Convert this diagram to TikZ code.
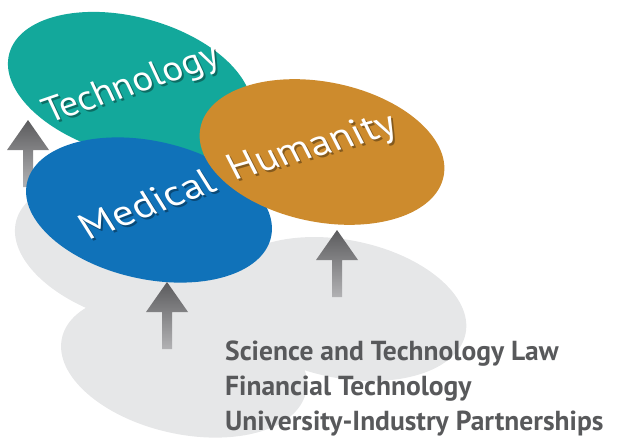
\documentclass[tikz,border=0pt]{standalone}
\usepackage{fontspec}
\setmainfont{PT Sans}
\usetikzlibrary{shapes.geometric}
\definecolor{techcol}{HTML}{13A89B}
\definecolor{medcol}{HTML}{1072B9}
\definecolor{humcol}{HTML}{CD8B2D}
\definecolor{blobcol}{HTML}{E6E7E8}
\definecolor{arrdark}{HTML}{5B5B5D}
\definecolor{arrmid}{HTML}{6B6B6D}
\definecolor{arrlight}{HTML}{B2B2B4}
\definecolor{txtcol}{HTML}{58595B}
\tikzset{
  oval/.style={ellipse, inner sep=0pt, minimum width=250pt, minimum height=138pt},
  blob/.style={oval, fill=blobcol},
  lab/.style={text=white, inner sep=0pt, font=\fontsize{36}{40}\selectfont},
  labshadow/.style={text=black, opacity=0.35, inner sep=0pt, font=\fontsize{36}{40}\selectfont},
  item/.style={text=txtcol, inner sep=0pt, anchor=base west, font=\fontsize{27.5}{30}\selectfont\bfseries},
  uparr/.pic={\shade[top color=arrdark, middle color=arrmid, bottom color=arrlight]
     (0,0) -- (21,-30) -- (5,-30) -- (5,-67) -- (-5,-67) -- (-5,-30) -- (-21,-30) -- cycle;}
}
\begin{document}
\begin{tikzpicture}[x=1pt,y=1pt]
\useasboundingbox (0,0) rectangle (617,440);
% grey shadows
\node[blob, rotate=-15] (g1) at (137,187) {};
\node[blob, rotate=-11.3] (g2) at (343,131) {};
\node[blob, rotate=-12.5] (g3) at (184,75) {};
% arrows
\pic (a1) at (28,320) {uparr};
\pic (a2) at (167,158) {uparr};
\pic (a3) at (337,210) {uparr};
% coloured ellipses
\node[oval, fill=techcol, rotate=-15] (tech) at (130,354) {};
\node[oval, fill=medcol, rotate=-12.5] (med) at (149,230) {};
\node[oval, fill=humcol, rotate=-11.3, minimum width=248pt, minimum height=140pt] (hum) at (322,288) {};
% labels  (e1 = baseline direction, e2 = letter-stem direction)
\node[labshadow, cm={0.993,0.342,-0.423,0.906,(0,0)}] (techs) at (134,352) {Technology};
\node[lab, cm={0.993,0.342,-0.423,0.906,(0,0)}] (techl) at (132,354) {Technology};
\node[labshadow, font=\fontsize{38}{42}\selectfont, cm={1.027,0.394,-0.530,0.848,(0,0)}] (meds) at (149,234) {Medical};
\node[lab, font=\fontsize{38}{42}\selectfont, cm={1.027,0.394,-0.530,0.848,(0,0)}] (medl) at (147,236) {Medical};
\node[labshadow, font=\fontsize{38}{42}\selectfont, cm={1.057,0.303,-0.454,0.891,(0,0)}] (hums) at (315,290) {Humanity};
\node[lab, font=\fontsize{38}{42}\selectfont, cm={1.057,0.303,-0.454,0.891,(0,0)}] (huml) at (313,292) {Humanity};
% list
\node[item] (l1) at (225,80) {Science and Technology Law};
\node[item] (l2) at (225,45) {Financial Technology};
\node[item] (l3) at (225,10) {University-Industry Partnerships};
\end{tikzpicture}
\end{document}
